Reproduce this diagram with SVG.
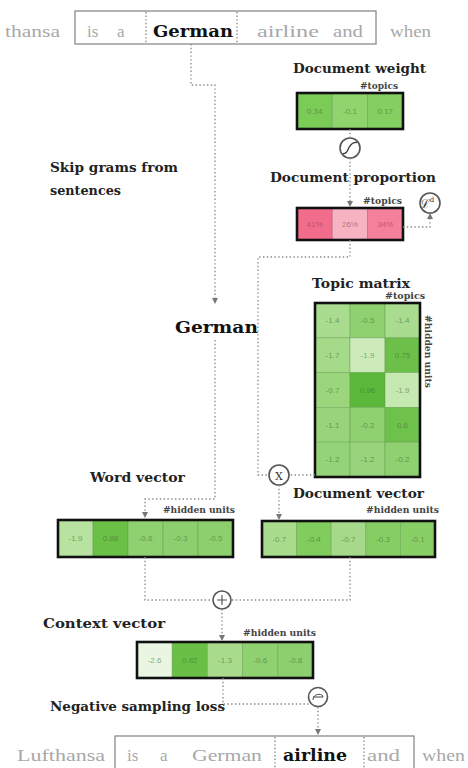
<svg xmlns="http://www.w3.org/2000/svg" width="468" height="768" viewBox="0 0 468 768">
<defs>
<marker id="ah" markerWidth="6" markerHeight="6" refX="5" refY="3" orient="auto" markerUnits="userSpaceOnUse">
<path d="M0,0 L6,3 L0,6 Z" fill="#777"/>
</marker>
<style>
.bg{fill:#fff}
.word{font-family:"Liberation Serif","DejaVu Serif",serif;font-size:17px;fill:#a8a8a8}
.bword{font-family:"DejaVu Serif",serif;font-weight:bold;font-size:17px;fill:#111}
.lbl{font-family:"DejaVu Serif",serif;font-weight:bold;font-size:13px;fill:#222}
.small{font-family:"DejaVu Serif",serif;font-weight:bold;font-size:9px;fill:#444}
.cell{stroke:#5d9a48;stroke-width:0.8;stroke-opacity:0.5}
.pcell{stroke:#b0506a;stroke-width:0.8;stroke-opacity:0.5}
.frame{fill:none;stroke:#111;stroke-width:2.6}
.num{font-family:"Liberation Sans",Arial,sans-serif;font-size:8px;fill:#3f6e32;fill-opacity:0.6;text-anchor:middle}
.pnum{font-family:"Liberation Sans",Arial,sans-serif;font-size:8px;fill:#9a3a50;fill-opacity:0.6;text-anchor:middle}
.conn{fill:none;stroke:#888;stroke-width:1.3;stroke-dasharray:1.4 2.4}
.sep{fill:none;stroke:#777;stroke-width:1.2;stroke-dasharray:1.4 2.2}
.box{fill:none;stroke:#8a8a8a;stroke-width:1.3}
.op{fill:#fff;stroke:#555;stroke-width:1.6}
.opt{font-family:"DejaVu Serif",serif;font-size:11px;fill:#333;text-anchor:middle}
</style>
</defs>
<rect class="bg" x="0" y="0" width="468" height="768"/>

<g id="top-sentence">
<rect class="box" x="75" y="11" width="301" height="33"/>
<line class="sep" x1="146" y1="12" x2="146" y2="44"/>
<line class="sep" x1="237" y1="12" x2="237" y2="44"/>
<text class="word" x="5" y="37" textLength="55" lengthAdjust="spacingAndGlyphs">thansa</text>
<text class="word" x="87" y="37">is</text>
<text class="word" x="117" y="37">a</text>
<text class="bword" x="153" y="37" font-size="19" textLength="80" lengthAdjust="spacingAndGlyphs">German</text>
<text class="word" x="257" y="37" textLength="62" lengthAdjust="spacingAndGlyphs">airline</text>
<text class="word" x="333" y="37" textLength="30" lengthAdjust="spacingAndGlyphs">and</text>
<text class="word" x="390" y="37" textLength="41" lengthAdjust="spacingAndGlyphs">when</text>
</g>

<g id="skip-grams-label">
<text class="lbl" x="50" y="172" textLength="128" lengthAdjust="spacingAndGlyphs">Skip grams from</text>
<text class="lbl" x="50" y="195" textLength="71" lengthAdjust="spacingAndGlyphs">sentences</text>
</g>

<g id="document-weight">
<text class="lbl" x="293" y="73" textLength="133" lengthAdjust="spacingAndGlyphs">Document weight</text>
<text class="small" x="360" y="89" textLength="38" lengthAdjust="spacingAndGlyphs">#topics</text>
<rect class="cell" x="297" y="93" width="35.3" height="36" fill="#7bcb57"/>
<rect class="cell" x="332.3" y="93" width="35.3" height="36" fill="#8fd46d"/>
<rect class="cell" x="367.6" y="93" width="35.4" height="36" fill="#84cf62"/>
<rect class="frame" x="297" y="93" width="106" height="36"/>
<text class="num" x="314.6" y="114">0.34</text>
<text class="num" x="350" y="114">-0.1</text>
<text class="num" x="385.3" y="114">0.17</text>
</g>

<g id="sigmoid">
<circle class="op" cx="350" cy="148" r="10"/>
<path d="M343,153.5 C347,154 347.5,150 349,147.5 C350.5,145 352,142 357,142.5" fill="none" stroke="#333" stroke-width="1.3"/>
</g>

<g id="document-proportion">
<text class="lbl" x="270" y="182" textLength="166" lengthAdjust="spacingAndGlyphs">Document proportion</text>
<text class="small" x="363" y="204" textLength="39" lengthAdjust="spacingAndGlyphs">#topics</text>
<rect class="pcell" x="297" y="208" width="35.3" height="32" fill="#f26c8c"/>
<rect class="pcell" x="332.3" y="208" width="35.3" height="32" fill="#f7b3c2"/>
<rect class="pcell" x="367.6" y="208" width="35.4" height="32" fill="#f4809c"/>
<rect class="frame" x="297" y="208" width="106" height="32"/>
<text class="pnum" x="314.6" y="227">41%</text>
<text class="pnum" x="350" y="227">26%</text>
<text class="pnum" x="385.3" y="227">34%</text>
</g>

<g id="dirichlet-loss">
<circle class="op" cx="430" cy="203" r="10"/>
<text x="427" y="208" font-family="DejaVu Serif,serif" font-size="12" fill="#333" text-anchor="middle">ℒ<tspan font-size="7" dy="-6">d</tspan></text>
</g>

<g id="german-word">
<text class="bword" x="175" y="333" font-size="18" textLength="83" lengthAdjust="spacingAndGlyphs">German</text>
</g>

<g id="topic-matrix">
<text class="lbl" x="312" y="288" font-size="14" textLength="98" lengthAdjust="spacingAndGlyphs">Topic matrix</text>
<text class="small" x="385" y="299" textLength="40" lengthAdjust="spacingAndGlyphs">#topics</text>
<text class="small" transform="translate(425,315) rotate(90)" textLength="73" lengthAdjust="spacingAndGlyphs">#hidden units</text>
<rect class="cell" x="315" y="303" width="35" height="34.8" fill="#a9dc8e"/>
<rect class="cell" x="350" y="303" width="35" height="34.8" fill="#8fd170"/>
<rect class="cell" x="385" y="303" width="35" height="34.8" fill="#a9dc8e"/>
<rect class="cell" x="315" y="337.8" width="35" height="34.8" fill="#a5da89"/>
<rect class="cell" x="350" y="337.8" width="35" height="34.8" fill="#cdebba"/>
<rect class="cell" x="385" y="337.8" width="35" height="34.8" fill="#6cc04a"/>
<rect class="cell" x="315" y="372.6" width="35" height="34.8" fill="#9bd67d"/>
<rect class="cell" x="350" y="372.6" width="35" height="34.8" fill="#5cb83a"/>
<rect class="cell" x="385" y="372.6" width="35" height="34.8" fill="#c6e8b1"/>
<rect class="cell" x="315" y="407.4" width="35" height="34.8" fill="#97d47a"/>
<rect class="cell" x="350" y="407.4" width="35" height="34.8" fill="#8fd071"/>
<rect class="cell" x="385" y="407.4" width="35" height="34.8" fill="#6ec24c"/>
<rect class="cell" x="315" y="442.2" width="35" height="34.8" fill="#95d378"/>
<rect class="cell" x="350" y="442.2" width="35" height="34.8" fill="#98d47b"/>
<rect class="cell" x="385" y="442.2" width="35" height="34.8" fill="#8fd071"/>
<rect class="frame" x="315" y="303" width="105" height="174"/>
<text class="num" x="332.5" y="323">-1.4</text><text class="num" x="367.5" y="323">-0.5</text><text class="num" x="402.5" y="323">-1.4</text>
<text class="num" x="332.5" y="358">-1.7</text><text class="num" x="367.5" y="358">-1.9</text><text class="num" x="402.5" y="358">0.75</text>
<text class="num" x="332.5" y="393">-0.7</text><text class="num" x="367.5" y="393">0.96</text><text class="num" x="402.5" y="393">-1.9</text>
<text class="num" x="332.5" y="428">-1.1</text><text class="num" x="367.5" y="428">-0.2</text><text class="num" x="402.5" y="428">0.6</text>
<text class="num" x="332.5" y="462">-1.2</text><text class="num" x="367.5" y="462">-1.2</text><text class="num" x="402.5" y="462">-0.2</text>
</g>

<g id="multiply">
<circle class="op" cx="279" cy="475" r="10"/>
<text class="opt" x="279" y="479.5" font-size="12">X</text>
</g>

<g id="word-vector">
<text class="lbl" x="90" y="482" textLength="95" lengthAdjust="spacingAndGlyphs">Word vector</text>
<text class="small" x="163" y="513" textLength="72" lengthAdjust="spacingAndGlyphs">#hidden units</text>
<rect class="cell" x="58" y="520" width="35" height="37" fill="#b8e2a0"/>
<rect class="cell" x="93" y="520" width="35" height="37" fill="#6bc048"/>
<rect class="cell" x="128" y="520" width="35" height="37" fill="#8fd070"/>
<rect class="cell" x="163" y="520" width="35" height="37" fill="#8dcf6e"/>
<rect class="cell" x="198" y="520" width="35" height="37" fill="#8ccf6c"/>
<rect class="frame" x="58" y="520" width="175" height="37"/>
<text class="num" x="75.5" y="541">-1.9</text><text class="num" x="110.5" y="541">0.88</text><text class="num" x="145.5" y="541">-0.6</text><text class="num" x="180.5" y="541">-0.3</text><text class="num" x="215.5" y="541">-0.5</text>
</g>

<g id="document-vector">
<text class="lbl" x="293" y="498" textLength="131" lengthAdjust="spacingAndGlyphs">Document vector</text>
<text class="small" x="366" y="513" textLength="73" lengthAdjust="spacingAndGlyphs">#hidden units</text>
<rect class="cell" x="262" y="521" width="34.6" height="36" fill="#a9dc8d"/>
<rect class="cell" x="296.6" y="521" width="34.6" height="36" fill="#80cc5d"/>
<rect class="cell" x="331.2" y="521" width="34.6" height="36" fill="#a6da8a"/>
<rect class="cell" x="365.8" y="521" width="34.6" height="36" fill="#86ce64"/>
<rect class="cell" x="400.4" y="521" width="34.6" height="36" fill="#88cf66"/>
<rect class="frame" x="262" y="521" width="173" height="36"/>
<text class="num" x="279.3" y="542">-0.7</text><text class="num" x="313.9" y="542">-0.4</text><text class="num" x="348.5" y="542">-0.7</text><text class="num" x="383.1" y="542">-0.3</text><text class="num" x="417.7" y="542">-0.1</text>
</g>

<g id="add">
<circle class="op" cx="222" cy="600" r="9"/>
<path d="M217,600 H227 M222,595 V605" stroke="#555" stroke-width="1.2"/>
</g>

<g id="context-vector">
<text class="lbl" x="43" y="628" font-size="14" textLength="122" lengthAdjust="spacingAndGlyphs">Context vector</text>
<text class="small" x="243" y="636" textLength="73" lengthAdjust="spacingAndGlyphs">#hidden units</text>
<rect class="cell" x="137" y="642" width="35.2" height="36" fill="#eaf6e2"/>
<rect class="cell" x="172.2" y="642" width="35.2" height="36" fill="#6ac046"/>
<rect class="cell" x="207.4" y="642" width="35.2" height="36" fill="#a8dc8c"/>
<rect class="cell" x="242.6" y="642" width="35.2" height="36" fill="#8fd070"/>
<rect class="cell" x="277.8" y="642" width="35.2" height="36" fill="#8dcf6e"/>
<rect class="frame" x="137" y="642" width="176" height="36"/>
<text class="num" x="154.6" y="663">-2.6</text><text class="num" x="189.8" y="663">0.82</text><text class="num" x="225" y="663">-1.3</text><text class="num" x="260.2" y="663">-0.6</text><text class="num" x="295.4" y="663">-0.8</text>
</g>

<g id="neg-sampling">
<text class="lbl" x="50" y="711" textLength="175" lengthAdjust="spacingAndGlyphs">Negative sampling loss</text>
<circle class="op" cx="318" cy="697" r="9.5"/>
<path d="M313,700 C313,693 323,693 323,697 M313,697 H323" fill="none" stroke="#444" stroke-width="1"/>
</g>

<g id="bottom-sentence">
<rect class="box" x="115" y="736" width="299" height="40"/>
<line class="sep" x1="275" y1="737" x2="275" y2="768"/>
<line class="sep" x1="364" y1="737" x2="364" y2="768"/>
<text class="word" x="17" y="761" textLength="88" lengthAdjust="spacingAndGlyphs">Lufthansa</text>
<text class="word" x="127" y="761">is</text>
<text class="word" x="160" y="761">a</text>
<text class="word" x="192" y="761" textLength="70" lengthAdjust="spacingAndGlyphs">German</text>
<text class="bword" x="283" y="761" font-size="19" textLength="64" lengthAdjust="spacingAndGlyphs">airline</text>
<text class="word" x="367" y="761" textLength="33" lengthAdjust="spacingAndGlyphs">and</text>
<text class="word" x="422" y="761" textLength="43" lengthAdjust="spacingAndGlyphs">when</text>
</g>

<g id="connectors">
<path class="conn" d="M191,44 V85 H215 V303" marker-end="url(#ah)"/>
<path class="conn" d="M215,340 V499 H145 V517" marker-end="url(#ah)"/>
<path class="conn" d="M350,129 V138"/>
<path class="conn" d="M350,158 V206" marker-end="url(#ah)"/>
<path class="conn" d="M403,227 H430 V214" marker-end="url(#ah)"/>
<path class="conn" d="M350,240 V257 H258 V475 H269"/>
<path class="conn" d="M315,475 H289"/>
<path class="conn" d="M279,485 V519" marker-end="url(#ah)"/>
<path class="conn" d="M145,557 V600 H213"/>
<path class="conn" d="M350,557 V600 H231"/>
<path class="conn" d="M222,609 V640" marker-end="url(#ah)"/>
<path class="conn" d="M223,678 V704 H309"/>
<path class="conn" d="M318,707 V734" marker-end="url(#ah)"/>
</g>
</svg>
